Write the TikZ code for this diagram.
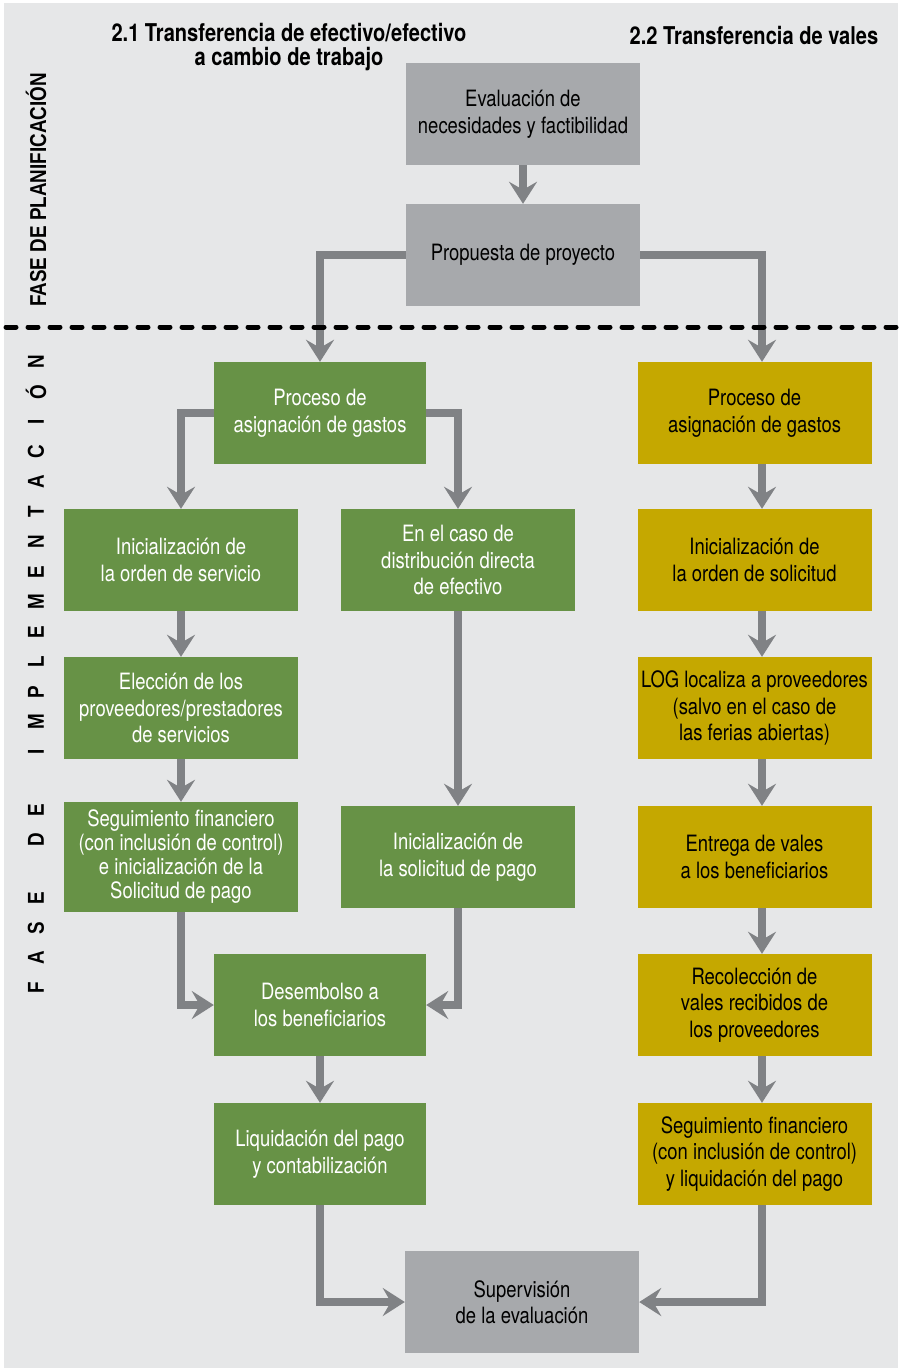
\documentclass[tikz,border=0pt]{standalone}
\usepackage{fontspec}
\usetikzlibrary{arrows.meta}
\setmainfont{TeX Gyre Heros}
\newfontfamily\boxfont[FakeStretch=0.82]{TeX Gyre Heros}
\newfontfamily\sidefont[FakeStretch=0.82]{Liberation Sans}

\definecolor{panel}{RGB}{230,231,232}
\definecolor{boxgray}{RGB}{167,169,172}
\definecolor{arrowgray}{RGB}{128,130,133}
\definecolor{leafgreen}{RGB}{103,146,70}
\definecolor{mustard}{RGB}{197,168,0}

\begin{document}
\begin{tikzpicture}[x=1pt,y=-1pt,
  stepbox/.style={rectangle, minimum width=234pt, minimum height=102pt,
    inner sep=0pt, align=center, font=\boxfont\fontsize{22.5}{26.5}\selectfont},
  graybox/.style={stepbox, fill=boxgray, text=black},
  greenbox/.style={stepbox, fill=leafgreen, text=white},
  goldbox/.style={stepbox, fill=mustard, text=black},
  narrow/.style={minimum width=212pt},
  flow/.style={draw=arrowgray, line width=8pt, line join=miter,
    -{Stealth[length=22pt,width=28pt,inset=8pt]}},
  header/.style={font=\boxfont\bfseries\fontsize{24.5}{24}\selectfont, align=center},
  phase/.style={rotate=90, font=\sidefont\bfseries\fontsize{23}{23}\selectfont},
]
% panel
\useasboundingbox (0,0) rectangle (898,1368);
\fill[white] (0,0) rectangle (898,1368);
\fill[panel] (4,3) rectangle (898,1368);

% column headers
\node[header] (h1) at (289,47) {2.1 Transferencia de efectivo/efectivo\\a cambio de trabajo};
\node[header] (h2) at (754,35) {2.2 Transferencia de vales};

% phase labels
\node[phase] (plan) at (36,190) {FASE DE PLANIFICACIÓN};
\foreach \ch/\yy [count=\k] in {F/988, A/958, S/928, E/898, D/840, E/810,
    I/752, M/722, P/692, L/662, E/632, M/602, E/572, N/542, T/512, A/482,
    C/452, I/422, Ó/392, N/362}
  \node[phase] (imp\k) at (36,\yy) {\ch};

% planning
\node[graybox] (eval) at (523,114) {Evaluación de\\necesidades y factibilidad};
\node[graybox] (prop) at (523,255) {Propuesta de proyecto};

% cash transfer branch
\node[greenbox, narrow] (gproc) at (320,413) {Proceso de\\asignación de gastos};
\node[greenbox] (g1) at (181,560) {Inicialización de\\la orden de servicio};
\node[greenbox] (g2) at (181,708) {Elección de los\\proveedores/prestadores\\de servicios};
\node[greenbox, minimum height=110pt, font=\boxfont\fontsize{22.5}{24}\selectfont] (g3) at (181,857)
  {Seguimiento financiero\\(con inclusión de control)\\e inicialización de la\\Solicitud de pago};
\node[greenbox] (m1) at (458,560) {En el caso de\\distribución directa\\de efectivo};
\node[greenbox] (m2) at (458,857) {Inicialización de\\la solicitud de pago};
\node[greenbox, narrow] (des) at (320,1005) {Desembolso a\\los beneficiarios};
\node[greenbox, narrow] (liq) at (320,1154) {Liquidación del pago\\y contabilización};

% voucher branch
\node[goldbox] (yproc) at (754.5,413) {Proceso de\\asignación de gastos};
\node[goldbox] (y1) at (754.5,560) {Inicialización de\\la orden de solicitud};
\node[goldbox] (y2) at (754.5,708) {LOG localiza a proveedores\\(salvo en el caso de\\las ferias abiertas)};
\node[goldbox] (y3) at (754.5,857) {Entrega de vales\\a los beneficiarios};
\node[goldbox] (y4) at (754.5,1005) {Recolección de\\vales recibidos de\\los proveedores};
\node[goldbox] (y5) at (754.5,1154) {Seguimiento financiero\\(con inclusión de control)\\y liquidación del pago};

% evaluation
\node[graybox] (sup) at (522,1302) {Supervisión\\de la evaluación};

% connectors
\draw[flow] (eval.south) -- (prop.north);
\draw[flow] (prop.west) -| (gproc.north);
\draw[flow] (prop.east) -| ([xshift=7.5pt]yproc.north);
\draw[flow] (gproc.west) -| (g1.north);
\draw[flow] (gproc.east) -| (m1.north);
\draw[flow] (g1.south) -- (g2.north);
\draw[flow] (g2.south) -- (g3.north);
\draw[flow] (m1.south) -- (m2.north);
\draw[flow] (g3.south) |- (des.west);
\draw[flow] (m2.south) |- (des.east);
\draw[flow] (des.south) -- (liq.north);
\draw[flow] (liq.south) |- (sup.west);
\foreach \a/\b in {yproc/y1, y1/y2, y2/y3, y3/y4, y4/y5}
  \draw[flow] ([xshift=7.5pt]\a.south) -- ([xshift=7.5pt]\b.north);
\draw[flow] ([xshift=7.5pt]y5.south) |- (sup.east);

% boundary between the two phases
\draw[black, line width=5pt, line cap=round, dash pattern=on 10pt off 12pt]
  (6,327) -- (898,327);
\end{tikzpicture}
\end{document}
